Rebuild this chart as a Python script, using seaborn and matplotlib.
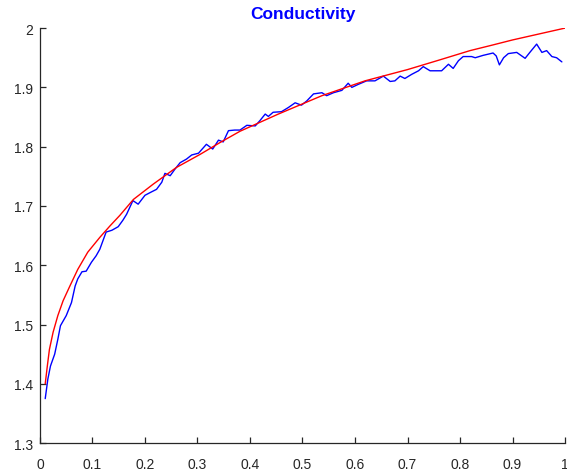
import matplotlib
matplotlib.use("Agg")
import matplotlib.pyplot as plt
import seaborn as sns
import pandas as pd
from matplotlib.ticker import FormatStrFormatter

# Measured conductivity samples
meas_x = [0.010, 0.015, 0.020, 0.028, 0.034, 0.039, 0.050, 0.060, 0.067, 0.072,
          0.080, 0.088, 0.098, 0.107, 0.114, 0.126, 0.137, 0.149, 0.158, 0.165,
          0.177, 0.187, 0.200, 0.213, 0.222, 0.232, 0.238, 0.248, 0.257, 0.267,
          0.279, 0.289, 0.302, 0.317, 0.329, 0.340, 0.349, 0.359, 0.371, 0.381,
          0.394, 0.410, 0.419, 0.429, 0.435, 0.444, 0.460, 0.473, 0.486, 0.498,
          0.508, 0.521, 0.537, 0.546, 0.559, 0.575, 0.587, 0.594, 0.606, 0.622,
          0.638, 0.654, 0.667, 0.676, 0.686, 0.695, 0.708, 0.721, 0.730, 0.743,
          0.765, 0.778, 0.787, 0.797, 0.806, 0.822, 0.829, 0.844, 0.863, 0.869,
          0.875, 0.883, 0.892, 0.908, 0.924, 0.933, 0.946, 0.956, 0.965, 0.975,
          0.984, 0.994]
meas_y = [1.375, 1.408, 1.430, 1.450, 1.475, 1.498, 1.515, 1.537, 1.565, 1.577,
          1.589, 1.590, 1.605, 1.616, 1.627, 1.656, 1.659, 1.665, 1.676, 1.686,
          1.709, 1.703, 1.718, 1.724, 1.728, 1.740, 1.755, 1.751, 1.762, 1.773,
          1.779, 1.786, 1.789, 1.804, 1.796, 1.811, 1.808, 1.827, 1.828, 1.828,
          1.836, 1.835, 1.844, 1.855, 1.851, 1.858, 1.859, 1.866, 1.874, 1.870,
          1.877, 1.889, 1.891, 1.886, 1.891, 1.895, 1.907, 1.900, 1.905, 1.911,
          1.911, 1.919, 1.910, 1.911, 1.919, 1.915, 1.922, 1.928, 1.935, 1.928,
          1.928, 1.939, 1.932, 1.945, 1.952, 1.952, 1.950, 1.954, 1.958, 1.953,
          1.938, 1.950, 1.957, 1.959, 1.949, 1.959, 1.973, 1.959, 1.962, 1.952,
          1.950, 1.943]

# Fitted curve
fit_x = [0.010, 0.014, 0.018, 0.025, 0.034, 0.044, 0.057, 0.072, 0.091, 0.114,
         0.133, 0.152, 0.178, 0.216, 0.260, 0.305, 0.343, 0.381, 0.454, 0.537,
         0.619, 0.700, 0.760, 0.819, 0.860, 0.900, 0.950, 1.000]
fit_y = [1.400, 1.430, 1.458, 1.487, 1.515, 1.540, 1.565, 1.593, 1.622, 1.647,
         1.666, 1.684, 1.711, 1.737, 1.765, 1.787, 1.807, 1.826, 1.855, 1.886,
         1.911, 1.930, 1.946, 1.962, 1.971, 1.980, 1.990, 2.000]

x_ticks = [0, 0.1, 0.2, 0.3, 0.4, 0.5, 0.6, 0.7, 0.8, 0.9, 1]
y_ticks = [1.3, 1.4, 1.5, 1.6, 1.7, 1.8, 1.9, 2]

sns.set_style("ticks")
plt.rcParams["font.family"] = ["Liberation Sans", "DejaVu Sans"]

axis_color = "#262626"
fig = plt.figure(figsize=(5.67, 4.77), dpi=100)
ax = fig.add_axes([0.0705, 0.069, 0.926, 0.870])

meas = pd.DataFrame({"x": meas_x, "y": meas_y})
fit = pd.DataFrame({"x": fit_x, "y": fit_y})
sns.lineplot(data=meas, x="x", y="y", color=(0, 0, 1), lw=1.0,
             sort=False, estimator=None, ax=ax)
sns.lineplot(data=fit, x="x", y="y", color=(1, 0, 0), lw=1.0,
             sort=False, estimator=None, ax=ax)

ax.set_xlim(0, 1)
ax.set_ylim(1.3, 2)
ax.set_xticks(x_ticks)
ax.set_yticks(y_ticks)
ax.xaxis.set_major_formatter(FormatStrFormatter("%g"))
ax.yaxis.set_major_formatter(FormatStrFormatter("%g"))
ax.set_xlabel("")
ax.set_ylabel("")

for side in ("top", "right"):
    ax.spines[side].set_visible(False)
for side in ("left", "bottom"):
    ax.spines[side].set_color(axis_color)
    ax.spines[side].set_linewidth(0.9)

ax.tick_params(axis="both", direction="in", length=4, width=0.9,
               color=axis_color, labelcolor=axis_color, labelsize=10)
ax.tick_params(axis="x", pad=10)
ax.tick_params(axis="y", pad=5)

ax.set_title("Conductivity", color=(0, 0, 1), fontweight="bold",
             fontsize=12.5, pad=7)

fig.savefig("out.png", dpi=100)
